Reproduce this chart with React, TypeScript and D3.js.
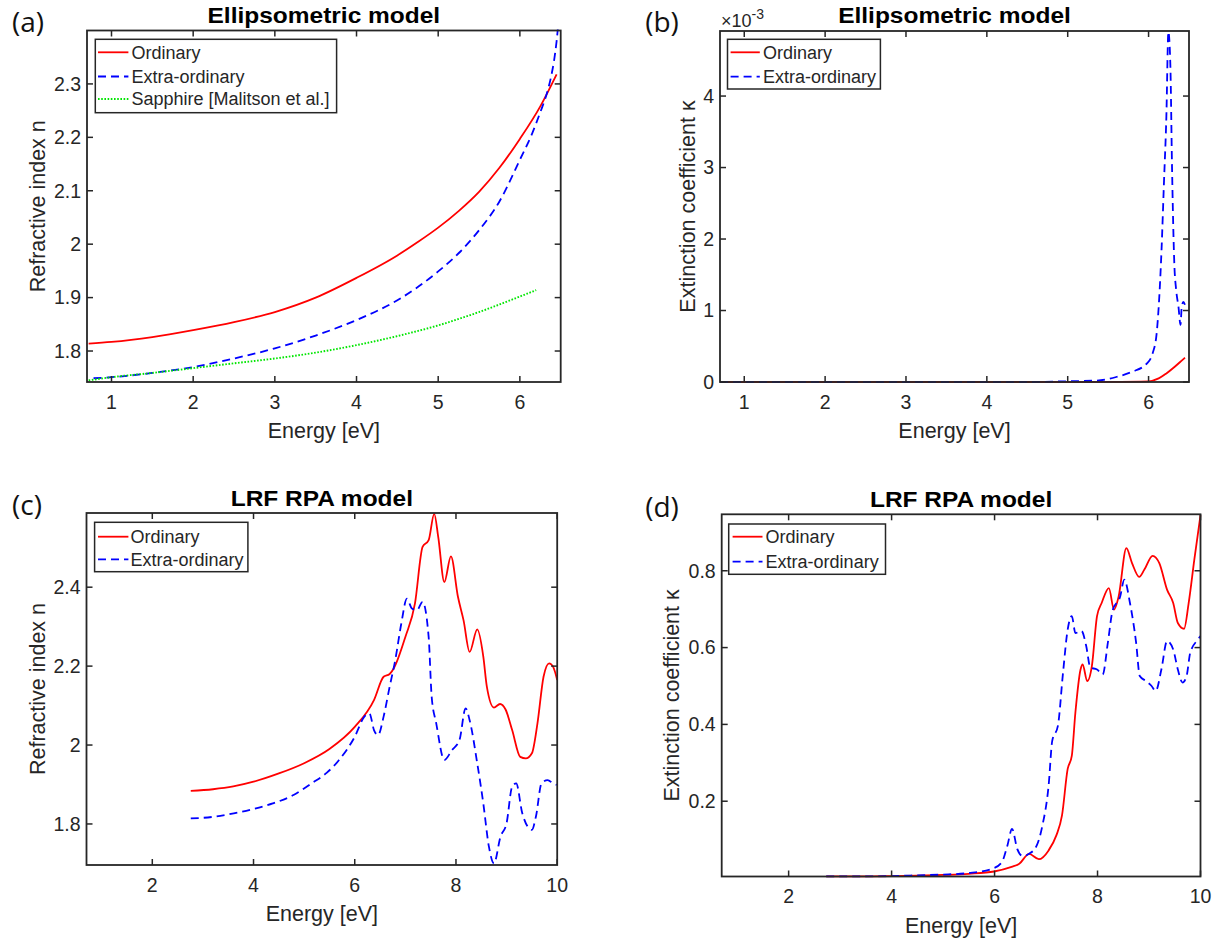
import React from 'react';
import * as d3 from 'd3';

// ---------- Panel (a): Ellipsometric model, refractive index ----------
const aOrdE = [0.72, 1.0, 1.5, 2.0, 2.5, 3.0, 3.5, 4.0, 4.5, 4.75, 5.0, 5.25, 5.5, 5.75, 6.0, 6.25, 6.45];
const aOrdN = [1.814, 1.817, 1.826, 1.839, 1.854, 1.873, 1.9, 1.937, 1.979, 2.004, 2.031, 2.062, 2.098, 2.143, 2.197, 2.258, 2.318];
const aExtE = [0.78, 1.0, 1.5, 2.0, 2.5, 3.0, 3.5, 4.0, 4.5, 5.0, 5.25, 5.5, 5.75, 6.0, 6.15, 6.25, 6.33, 6.38, 6.42, 6.45, 6.48];
const aExtN = [1.749, 1.751, 1.759, 1.77, 1.786, 1.805, 1.829, 1.858, 1.895, 1.949, 1.983, 2.026, 2.08, 2.158, 2.207, 2.247, 2.282, 2.312, 2.345, 2.38, 2.43];
const aSapE = [0.72, 1.0, 1.5, 2.0, 2.5, 3.0, 3.5, 4.0, 4.5, 5.0, 5.5, 6.0, 6.2];
const aSapN = [1.745, 1.751, 1.759, 1.768, 1.777, 1.786, 1.797, 1.811, 1.828, 1.848, 1.873, 1.902, 1.914];

// ---------- Panel (b): Ellipsometric model, extinction coefficient ----------
const bOrdE = [0.7, 5.0, 5.5, 6.0, 6.125, 6.22, 6.32, 6.42, 6.45];
const bOrdK = [0, 0, 0.000002, 0.00001, 0.00005, 0.00012, 0.00021, 0.00031, 0.00034];
const bExtE = [0.7, 4.5, 5.0, 5.36, 5.6, 5.79, 5.98, 6.05, 6.1, 6.13, 6.16, 6.19, 6.22, 6.245, 6.27, 6.29, 6.32, 6.34, 6.37, 6.395, 6.41, 6.43, 6.45];
const bExtK = [0, 0, 0.00001, 0.00002, 0.00007, 0.00014, 0.00026, 0.0004, 0.00068, 0.00114, 0.00184, 0.00278, 0.00371, 0.0049, 0.00441, 0.00301, 0.00161, 0.0013, 0.00105, 0.0008, 0.00105, 0.00112, 0.00108];

// ---------- Panel (c): LRF RPA model, refractive index ----------
const cOrdE = [2.76, 3.2, 3.6, 4.0, 4.5, 5.0, 5.5, 6.0, 6.38, 6.57, 6.69, 6.77, 7.0, 7.19, 7.34, 7.46, 7.57, 7.65, 7.77, 7.9, 8.04, 8.15, 8.27, 8.42, 8.54, 8.61, 8.75, 8.87, 8.98, 9.11, 9.27, 9.38, 9.5, 9.61, 9.73, 9.84, 9.92, 10.0];
const cOrdN = [1.884, 1.888, 1.895, 1.907, 1.928, 1.954, 1.99, 2.046, 2.114, 2.173, 2.18, 2.194, 2.274, 2.359, 2.502, 2.519, 2.586, 2.527, 2.413, 2.478, 2.375, 2.316, 2.236, 2.293, 2.224, 2.148, 2.095, 2.104, 2.09, 2.038, 1.97, 1.966, 1.979, 2.055, 2.173, 2.207, 2.198, 2.165];
const cExtE = [2.76, 3.2, 3.61, 4.0, 4.38, 4.8, 5.15, 5.45, 5.69, 6.0, 6.19, 6.29, 6.38, 6.46, 6.57, 6.69, 6.8, 6.92, 7.03, 7.13, 7.23, 7.34, 7.46, 7.52, 7.61, 7.77, 7.92, 8.07, 8.19, 8.27, 8.42, 8.54, 8.65, 8.75, 8.88, 9.0, 9.11, 9.19, 9.31, 9.5, 9.58, 9.69, 9.81, 9.92, 9.99];
const cExtN = [1.814, 1.818, 1.827, 1.838, 1.852, 1.874, 1.903, 1.93, 1.962, 2.021, 2.072, 2.08, 2.038, 2.025, 2.072, 2.148, 2.215, 2.308, 2.371, 2.346, 2.342, 2.363, 2.274, 2.122, 2.055, 1.962, 1.987, 2.013, 2.093, 2.063, 1.954, 1.852, 1.743, 1.7, 1.768, 1.802, 1.895, 1.903, 1.827, 1.785, 1.819, 1.903, 1.911, 1.903, 1.899];

// ---------- Panel (d): LRF RPA model, extinction coefficient ----------
const dOrdE = [2.73, 3.5, 4.0, 4.5, 5.0, 5.5, 5.99, 6.33, 6.48, 6.67, 6.86, 7.05, 7.2, 7.31, 7.42, 7.5, 7.57, 7.67, 7.71, 7.8, 7.89, 7.99, 8.08, 8.22, 8.32, 8.41, 8.56, 8.67, 8.81, 8.91, 9.07, 9.2, 9.35, 9.47, 9.56, 9.68, 9.77, 9.88, 10.0];
const dOrdK = [0.004, 0.004, 0.005, 0.006, 0.008, 0.011, 0.017, 0.029, 0.037, 0.063, 0.049, 0.072, 0.111, 0.163, 0.284, 0.318, 0.431, 0.543, 0.556, 0.513, 0.552, 0.682, 0.716, 0.755, 0.699, 0.733, 0.859, 0.82, 0.784, 0.803, 0.839, 0.82, 0.751, 0.716, 0.664, 0.649, 0.716, 0.829, 0.945];
const dExtE = [2.73, 3.5, 4.0, 4.5, 5.0, 5.5, 5.95, 6.14, 6.25, 6.34, 6.44, 6.55, 6.67, 6.82, 6.93, 7.05, 7.12, 7.23, 7.33, 7.42, 7.5, 7.57, 7.69, 7.78, 7.86, 7.99, 8.1, 8.2, 8.29, 8.44, 8.52, 8.63, 8.75, 8.82, 8.94, 9.05, 9.13, 9.24, 9.35, 9.47, 9.56, 9.65, 9.73, 9.8, 9.95, 10.0];
const dExtK = [0.004, 0.004, 0.005, 0.007, 0.009, 0.013, 0.024, 0.041, 0.085, 0.128, 0.076, 0.057, 0.063, 0.085, 0.137, 0.241, 0.357, 0.396, 0.535, 0.647, 0.682, 0.638, 0.643, 0.604, 0.548, 0.543, 0.53, 0.612, 0.695, 0.733, 0.777, 0.716, 0.612, 0.526, 0.513, 0.5, 0.487, 0.543, 0.617, 0.595, 0.543, 0.509, 0.526, 0.586, 0.621, 0.63];

// ---------- Axis ticks and labels ----------
const ticksAX = [1, 2, 3, 4, 5, 6];
const ticksAY = [1.8, 1.9, 2.0, 2.1, 2.2, 2.3];
const ticksBY = [0, 0.001, 0.002, 0.003, 0.004];
const ticksCDX = [2, 4, 6, 8, 10];
const ticksCY = [1.8, 2.0, 2.2, 2.4];
const ticksDY = [0.2, 0.4, 0.6, 0.8];

const legendA = ['Ordinary', 'Extra-ordinary', 'Sapphire [Malitson et al.]'];
const legendB = ['Ordinary', 'Extra-ordinary'];

const FONT = '"Liberation Sans", Arial, Helvetica, sans-serif';
const INK = '#262626';

type Series = { x: number[]; y: number[]; color: string; dash?: string; width: number };

const RED = '#ff0000';
const BLUE = '#0000ff';
const GREEN = '#00e600';
const DASH = '8,5';

function T(props: any) {
  const { x, y, size = 19.5, anchor = 'middle', weight = 'normal', sy = 1, rotate = 0, family = FONT, fill = INK, children } = props;
  return (
    <text
      transform={`translate(${x},${y}) scale(1,${sy})${rotate ? ` rotate(${rotate})` : ''}`}
      fontSize={size}
      textAnchor={anchor}
      fontWeight={weight}
      fontFamily={family}
      fill={fill}
      dy="0.35em"
    >
      {children}
    </text>
  );
}

const fmt = (v: number) => String(+v.toFixed(3));

function Panel(p: any) {
  const { id, box, xDom, yDom, xTicks, yTicks, yFmt, series, legend, title, ylabel, xlabelY, ylabelX, letter, letterPos, titleY } = p;
  const x = d3.scaleLinear().domain(xDom).range([box.l, box.r]);
  const y = d3.scaleLinear().domain(yDom).range([box.b, box.t]);
  const line = (s: Series) =>
    d3
      .line<number>()
      .x((_, i) => x(s.x[i]))
      .y((_, i) => y(s.y[i]))
      .curve(d3.curveMonotoneX)(s.y) || '';
  const tl = 6;
  const cx = (box.l + box.r) / 2;
  const cy = (box.t + box.b) / 2;
  return (
    <g>
      <defs>
        <clipPath id={`clip-${id}`}>
          <rect x={box.l - 1} y={box.t - 1} width={box.r - box.l + 2} height={box.b - box.t + 2} />
        </clipPath>
      </defs>
      <rect x={box.l} y={box.t} width={box.r - box.l} height={box.b - box.t} fill="#fff" />
      <g clipPath={`url(#clip-${id})`}>
        {series.map((s: Series, i: number) => (
          <path key={i} d={line(s)} fill="none" stroke={s.color} strokeWidth={s.width} strokeDasharray={s.dash} />
        ))}
      </g>
      {xTicks.map((t: number) => (
        <g key={'x' + t}>
          <line x1={x(t)} x2={x(t)} y1={box.b} y2={box.b - tl} stroke={INK} strokeWidth={1.5} />
          <line x1={x(t)} x2={x(t)} y1={box.t} y2={box.t + tl} stroke={INK} strokeWidth={1.5} />
          <T x={x(t)} y={box.b + 20}>{fmt(t)}</T>
        </g>
      ))}
      {yTicks.map((t: number) => (
        <g key={'y' + t}>
          <line x1={box.l} x2={box.l + tl} y1={y(t)} y2={y(t)} stroke={INK} strokeWidth={1.5} />
          <line x1={box.r} x2={box.r - tl} y1={y(t)} y2={y(t)} stroke={INK} strokeWidth={1.5} />
          <T x={box.l - 6} y={y(t)} anchor="end">{yFmt(t)}</T>
        </g>
      ))}
      <rect x={box.l} y={box.t} width={box.r - box.l} height={box.b - box.t} fill="none" stroke={INK} strokeWidth={1.8} />
      <rect x={legend.l} y={legend.t} width={legend.r - legend.l} height={legend.b - legend.t} fill="#fff" stroke={INK} strokeWidth={1.5} />
      {legend.names.map((n: string, i: number) => (
        <g key={n}>
          <line
            x1={legend.lx1}
            x2={legend.lx2}
            y1={legend.ys[i]}
            y2={legend.ys[i]}
            stroke={series[i].color}
            strokeWidth={series[i].width}
            strokeDasharray={series[i].dash}
          />
          <T x={legend.tx} y={legend.ys[i]} anchor="start" size={18}>{n}</T>
        </g>
      ))}
      <T x={cx} y={titleY} size={24.5} weight="bold" fill="#000" sy={0.93}>{title}</T>
      <T x={cx} y={xlabelY} size={21.5}>Energy [eV]</T>
      <T x={ylabelX} y={cy} size={21.5} rotate={-90}>{ylabel}</T>
      <T x={letterPos[0]} y={letterPos[1]} size={28} fill="#111" family='"Open Sans", "Noto Sans", sans-serif'>{letter}</T>
    </g>
  );
}

export default function App() {
  const panelA = {
    id: 'a',
    box: { l: 87, t: 30.5, r: 560.7, b: 382 },
    xDom: [0.7, 6.5],
    yDom: [1.742, 2.4],
    xTicks: ticksAX,
    yTicks: ticksAY,
    yFmt: fmt,
    series: [
      { x: aOrdE, y: aOrdN, color: RED, width: 1.8 },
      { x: aExtE, y: aExtN, color: BLUE, width: 1.8, dash: DASH },
      { x: aSapE, y: aSapN, color: GREEN, width: 1.9, dash: '1.6,1.6' },
    ],
    legend: { l: 95.3, t: 39.3, r: 336.6, b: 112.7, lx1: 98, lx2: 128.4, tx: 131.5, ys: [52.3, 76.5, 99], names: legendA },
    title: 'Ellipsometric model',
    titleY: 15,
    ylabel: 'Refractive index n',
    xlabelY: 430,
    ylabelX: 37,
    letter: '(a)',
    letterPos: [28, 22],
  };
  const panelB = {
    id: 'b',
    box: { l: 720, t: 31, r: 1189, b: 382 },
    xDom: [0.7, 6.5],
    yDom: [0, 0.00491],
    xTicks: ticksAX,
    yTicks: ticksBY,
    yFmt: (v: number) => String(+(v * 1000).toFixed(3)),
    series: [
      { x: bOrdE, y: bOrdK, color: RED, width: 1.8 },
      { x: bExtE, y: bExtK, color: BLUE, width: 1.8, dash: DASH },
    ],
    legend: { l: 727.5, t: 39.3, r: 880.4, b: 89, lx1: 730.6, lx2: 759.8, tx: 763, ys: [52.3, 76.7], names: legendB },
    title: 'Ellipsometric model',
    titleY: 15,
    ylabel: 'Extinction coefficient κ',
    xlabelY: 430,
    ylabelX: 687,
    letter: '(b)',
    letterPos: [662, 22],
  };
  const panelC = {
    id: 'c',
    box: { l: 86.5, t: 513, r: 557.2, b: 865 },
    xDom: [0.7, 10],
    yDom: [1.696, 2.588],
    xTicks: ticksCDX,
    yTicks: ticksCY,
    yFmt: fmt,
    series: [
      { x: cOrdE, y: cOrdN, color: RED, width: 1.8 },
      { x: cExtE, y: cExtN, color: BLUE, width: 1.8, dash: DASH },
    ],
    legend: { l: 94.6, t: 522.3, r: 247.9, b: 571.7, lx1: 98, lx2: 128.4, tx: 130.4, ys: [536.7, 559.3], names: legendB },
    title: 'LRF RPA model',
    titleY: 498,
    ylabel: 'Refractive index n',
    xlabelY: 913,
    ylabelX: 37,
    letter: '(c)',
    letterPos: [27, 505],
  };
  const panelD = {
    id: 'd',
    box: { l: 721.7, t: 514.3, r: 1200.5, b: 876.5 },
    xDom: [0.7, 10],
    yDom: [0.004, 0.947],
    xTicks: ticksCDX,
    yTicks: ticksDY,
    yFmt: fmt,
    series: [
      { x: dOrdE, y: dOrdK, color: RED, width: 1.8 },
      { x: dExtE, y: dExtK, color: BLUE, width: 1.8, dash: DASH },
    ],
    legend: { l: 728.7, t: 524, r: 885.5, b: 574.3, lx1: 732.6, lx2: 762.5, tx: 765.6, ys: [536.7, 561.7], names: legendB },
    title: 'LRF RPA model',
    titleY: 499,
    ylabel: 'Extinction coefficient κ',
    xlabelY: 925,
    ylabelX: 671,
    letter: '(d)',
    letterPos: [662, 507],
  };
  return (
    <svg
      width={1220}
      height={941}
      viewBox="0 0 1220 941"
      style={{ position: 'absolute', left: 0, top: 0, background: '#fff' }}
    >
      <rect x={0} y={0} width={1220} height={941} fill="#fff" />
      <Panel {...panelA} />
      <Panel {...panelB} />
      <Panel {...panelC} />
      <Panel {...panelD} />
      <text x={721} y={21} fontSize={18} fontFamily={FONT} fill={INK} dy="0.35em">
        ×10<tspan dy={-8} fontSize={14}>-3</tspan>
      </text>
    </svg>
  );
}
